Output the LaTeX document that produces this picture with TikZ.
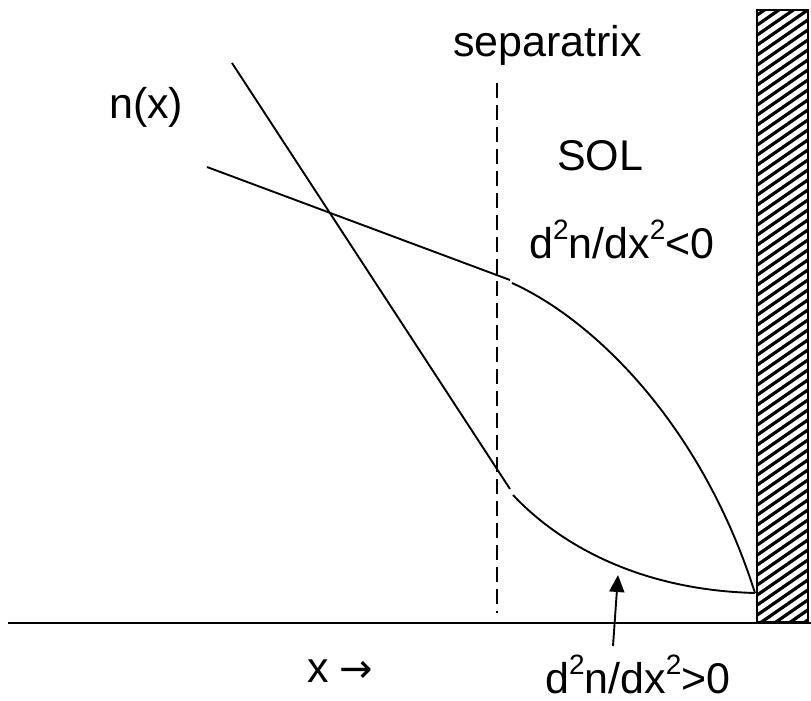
\documentclass[tikz,border=0pt]{standalone}
\usepackage{fontspec}
\setmainfont{Liberation Sans}
\newfontfamily\arrfont{DejaVu Sans}
\usetikzlibrary{arrows.meta}
\newcommand{\sq}{\raisebox{0.42em}{\fontsize{28}{28}\selectfont 2}}
\begin{document}
\begin{tikzpicture}[x=1pt,y=-1pt,
  curve/.style={line width=1.9pt},
  lbl/.style={inner sep=0pt,anchor=base west,font=\fontsize{43}{51}\selectfont}]
\useasboundingbox (0,0) rectangle (811,701);
% wall
\begin{scope}
\clip (757,10) rectangle (808,622);
\foreach \k in {-10,...,72}{
  \draw[line width=3.2pt] (750,{10+\k*10}) -- (815,{10+\k*10-45});
}
\end{scope}
\draw[line width=1.8pt] (757,10) rectangle (808,622);
% baseline
\coordinate (b0) at (8,623);
\coordinate (b1) at (811,623);
\draw[curve] (b0) -- (b1);
% separatrix
\coordinate (s0) at (497,83);
\coordinate (s1) at (497,613);
\draw[line width=1.7pt,dash pattern=on 15pt off 7pt] (s0) -- (s1);
% steep line and lower curve
\coordinate (a0) at (232,63);
\coordinate (a1) at (510,489);
\coordinate (a2) at (513,495);
\coordinate (e) at (755,593);
\draw[curve] (a0) -- (a1);
\draw[curve] (a2) .. controls (560,545) and (640,590) .. (e);
% shallow line and upper curve
\coordinate (c0) at (207,167);
\coordinate (c1) at (510,280);
\coordinate (c2) at (512,283);
\draw[curve] (c0) -- (c1);
\draw[curve] (c2) .. controls (590,318) and (700,420) .. (e);
% arrow
\coordinate (r0) at (613,646);
\coordinate (r1) at (618,575);
\draw[line width=1.9pt,-{Triangle[length=17pt,width=15pt]}] (r0) -- (r1);
% labels
\node[lbl] (sep) at (453,57) {separatrix};
\node[lbl] (nx) at (109,118) {n(x)};
\node[lbl] (sol) at (557,170) {SOL};
\node[lbl] (neg) at (529,258) {d\sq n/dx\sq<0};
\node[lbl] (pos) at (545,693) {d\sq n/dx\sq>0};
\node[lbl] (xa) at (307,682) {x\hspace{0.25em}{\arrfont\fontsize{40}{40}\selectfont →}};
\end{tikzpicture}
\end{document}
